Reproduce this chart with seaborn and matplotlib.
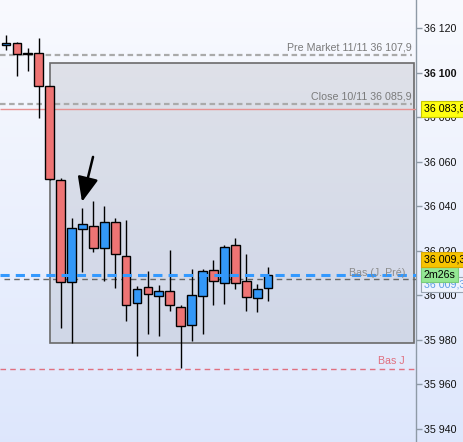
import matplotlib
matplotlib.use("Agg")

import matplotlib.pyplot as plt
import numpy as np
import pandas as pd
import seaborn as sns
from matplotlib.patches import Rectangle
from matplotlib.transforms import blended_transform_factory

# bougies (open, high, low, close)
opens = [36112.7, 36113.3, 36108.9, 36108.8, 36093.9, 36051.7, 36006.0, 36029.7, 36031.0,
         36021.2, 36032.8, 36017.6, 35996.5, 36003.6, 35999.6, 36001.8, 35994.7, 35986.6,
         35999.6, 36011.3, 36005.4, 36022.5, 36006.3, 35998.7, 36003.2]
highs = [36117.0, 36113.7, 36111.1, 36115.5, 36093.9, 36052.6, 36034.6, 36039.1, 36042.4,
         36040.2, 36034.6, 36033.7, 36004.2, 36011.0, 36004.7, 36020.4, 35995.6, 36011.9,
         36011.9, 36015.8, 36022.5, 36025.7, 36018.5, 36005.0, 36012.8]
lows = [36110.2, 36098.6, 36100.8, 36079.6, 36052.0, 35985.5, 35978.8, 36010.6, 36019.6,
        36006.6, 36003.5, 35988.6, 35972.8, 35982.5, 35981.6, 35993.1, 35967.4, 35979.6,
        35982.5, 35995.8, 35996.3, 36002.7, 35993.1, 35992.7, 35997.6]
closes = [36113.4, 36108.3, 36108.6, 36093.9, 36052.2, 36006.0, 36030.1, 36031.9, 36021.2,
          36032.8, 36018.5, 35995.6, 36002.7, 36000.5, 36001.8, 35995.6, 35986.1, 36000.0,
          36010.8, 36006.3, 36021.6, 36005.4, 35999.1, 36002.7, 36009.3]

# niveaux
pre_market = 36107.9
close_veille = 36085.9
last_level = 36083.8
bas_j_pre = 36009.3
prix_gris = 36007.3
bas_j = 35966.8
zone_haut, zone_bas = 36104.3, 35978.6

y_ticks = [35940, 35960, 35980, 36000, 36020, 36040, 36060, 36080, 36100, 36120]

df = pd.DataFrame({"open": opens, "high": highs, "low": lows, "close": closes})
df["x"] = np.arange(len(df))
df["up"] = df["close"] >= df["open"]

sns.set_theme(style="white")
plt.rcParams["font.family"] = ["Liberation Sans", "DejaVu Sans"]

fig = plt.figure(figsize=(4.64, 4.42), dpi=100)

# fond dégradé
bg = fig.add_axes([0, 0, 1, 1], zorder=-5)
grad = np.linspace(0, 1, 256)[:, None]
top = np.array([0.975, 0.98, 0.997])
bot = np.array([0.87, 0.905, 0.99])
img = top[None, None, :] * (1 - grad[..., None]) + bot[None, None, :] * grad[..., None]
bg.imshow(img, aspect="auto", extent=[0, 1, 0, 1], origin="upper")
bg.axis("off")

ax = fig.add_axes([0, 0, 416 / 464, 1])
ax.set_facecolor("none")
ax.set_xlim(-0.55, 37.55)
ax.set_ylim(35934.1, 36132.7)

# zone grise
ax.add_patch(Rectangle((4, zone_bas), 37.4 - 4, zone_haut - zone_bas,
                       facecolor="#7a7f8a", alpha=0.18, edgecolor="none", zorder=1))
ax.add_patch(Rectangle((4, zone_bas), 37.4 - 4, zone_haut - zone_bas,
                       facecolor="none", edgecolor="#6a6a6a", lw=1.2, zorder=1.5))

# lignes de niveau
ax.hlines(pre_market, -0.55, 37.2, color="#aaaaaa", lw=1.6, ls=(0, (2.5, 1.6)), zorder=2)
ax.hlines(close_veille, -0.55, 37.2, color="#aaaaaa", lw=1.6, ls=(0, (2.5, 1.6)), zorder=2)
ax.hlines(last_level, -0.55, 37.55, color="#e89090", lw=1, zorder=2)
ax.hlines(prix_gris, -0.2, 37.55, color="#666666", lw=1, ls=(0, (4, 3)), zorder=2)
ax.hlines(bas_j, -0.55, 37.55, color="#e07080", lw=1, ls=(0, (4, 3)), zorder=2)

# bougies
ax.vlines(df["x"], df["low"], df["high"], color="black", lw=1, zorder=3)
body_low = df[["open", "close"]].min(axis=1)
body_h = (df["close"] - df["open"]).abs()
colors = np.where(df["up"], "#3398f8", "#ee7474")
ax.bar(df["x"], body_h, bottom=body_low, width=0.8, color=colors,
       edgecolor="black", lw=1, zorder=4)

ax.hlines(bas_j_pre, -0.55, 37.55, color="#3399ff", lw=2.2, ls=(0, (3, 2)), zorder=5)

# textes des niveaux
lab_kw = dict(ha="right", fontsize=7.7)
ax.annotate("Pre Market 11/11 36 107,9", (37.18, pre_market), xytext=(0, 2),
            textcoords="offset points", va="bottom", color="#7a7a7a", **lab_kw)
ax.annotate("Close 10/11 36 085,9", (37.18, close_veille), xytext=(0, 2),
            textcoords="offset points", va="bottom", color="#7a7a7a", **lab_kw)
ax.annotate("Bas (J. Pré)", (36.54, bas_j_pre), xytext=(0, 1),
            textcoords="offset points", va="center", color="#8c8c8c", zorder=6, **lab_kw)
ax.annotate("Bas J", (36.54, bas_j), xytext=(0, 2.5),
            textcoords="offset points", va="bottom", color="#e07080", **lab_kw)

# flèche
ax.annotate("", xy=(6.96, 36042.0), xytext=(7.97, 36062.2),
            arrowprops=dict(arrowstyle="-|>,head_length=1.0,head_width=0.42",
                            mutation_scale=15, color="black", lw=1.8,
                            shrinkA=0, shrinkB=0), zorder=7)

# axe de droite
for s in ["left", "top", "bottom"]:
    ax.spines[s].set_visible(False)
ax.spines["right"].set_color("#8e9aa6")
ax.spines["right"].set_linewidth(1)
ax.set_xticks([])
ax.yaxis.tick_right()
ax.set_yticks(y_ticks)
ax.set_yticklabels([f"{v:,}".replace(",", " ") for v in y_ticks], fontsize=7.7, color="#111111")
ax.tick_params(axis="y", direction="out", length=4.5, width=1, colors="#8e9aa6",
               labelcolor="#111111", pad=1.5)
for t in ax.get_yticklabels():
    if t.get_text() == "36 100":
        t.set_fontweight("bold")
ax.grid(False)

# étiquettes de prix
tr = blended_transform_factory(ax.transAxes, ax.transData)
box = dict(boxstyle="square,pad=0.25", lw=0.8)
ax.text(1.019, 36005.0, "36 009,3", transform=tr, fontsize=7.7, va="center", ha="left",
        color="#5f9ee6", clip_on=False, zorder=8,
        bbox=dict(facecolor="#eef3fd", edgecolor="#9aa4b0", **box))
ax.text(1.019, bas_j_pre, "2m26s", transform=tr, fontsize=7.7, va="center", ha="left",
        color="black", clip_on=False, zorder=9,
        bbox=dict(facecolor="#94e894", edgecolor="#7acc7a", **box))
ax.text(1.019, 36016.0, "36 009,3", transform=tr, fontsize=7.7, va="center", ha="left",
        color="black", clip_on=False, zorder=10,
        bbox=dict(facecolor="#f7c400", edgecolor="#d8a800", **box))
ax.text(1.019, last_level, "36 083,8", transform=tr, fontsize=7.7, va="center", ha="left",
        color="black", clip_on=False, zorder=10,
        bbox=dict(facecolor="#ffff10", edgecolor="#c8c800", **box))

fig.savefig("out.png", dpi=100)
